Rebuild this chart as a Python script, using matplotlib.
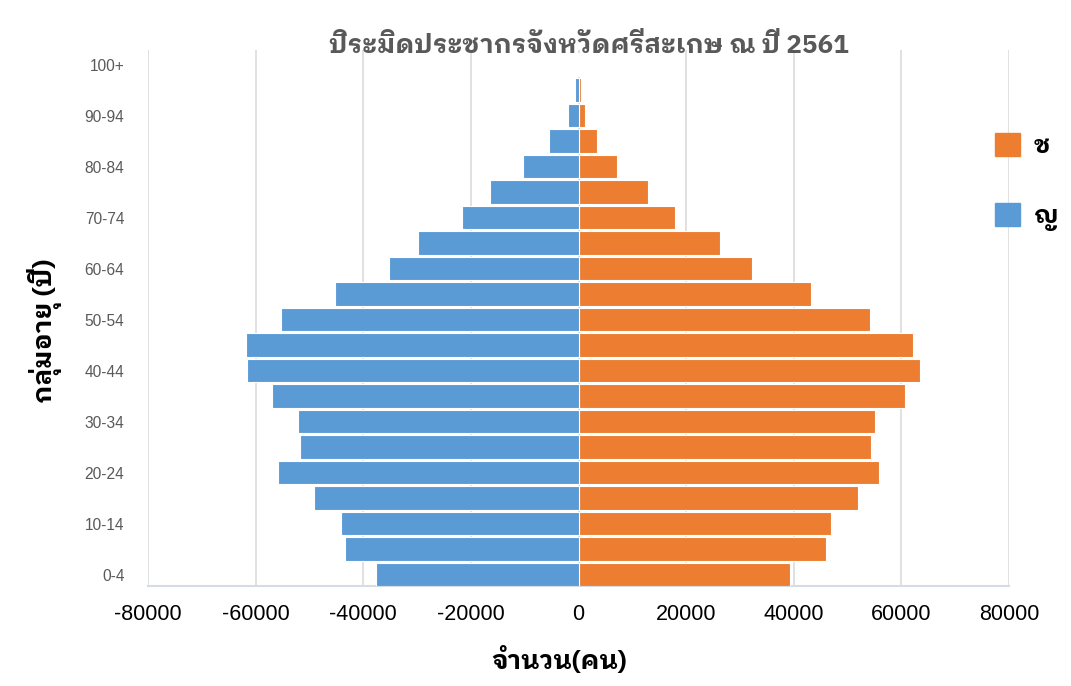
import matplotlib
matplotlib.use("Agg")
import matplotlib.pyplot as plt
from matplotlib.patches import Patch

# age groups, youngest first
age_groups = ['0-4', '5-9', '10-14', '15-19', '20-24', '25-29', '30-34',
              '35-39', '40-44', '45-49', '50-54', '55-59', '60-64', '65-69',
              '70-74', '75-79', '80-84', '85-89', '90-94', '95-99', '100+']

# male counts (ช)
male = [39300, 45950, 46900, 52000, 55900, 54400, 55100, 60600, 63400, 62100,
        54100, 43200, 32200, 26300, 17900, 12900, 7200, 3500, 1250, 500, 80]

# female counts (ญ), negative so they go to the left
female = [-37700, -43400, -44200, -49100, -55800, -51700, -52200, -57000,
          -61600, -61800, -55300, -45200, -35200, -29800, -21600, -16400,
          -10400, -5500, -2000, -650, -80]

x_ticks = [-80000, -60000, -40000, -20000, 0, 20000, 40000, 60000, 80000]

title = 'ปิระมิดประชากรจังหวัดศรีสะเกษ ณ ปี 2561'
x_label = 'จำนวน(คน)'
y_label = 'กลุ่มอายุ (ปี)'

thai = ['IBM Plex Sans Thai Looped', 'DejaVu Sans']
orange = '#ED7D31'
blue = '#5B9BD5'

fig = plt.figure(figsize=(10.71, 6.86), dpi=100)
ax = fig.add_axes([0.1382, 0.1458, 0.8039, 0.7806])

pos = list(range(len(age_groups)))
ax.barh(pos, male, height=0.93, color=orange, edgecolor='white', linewidth=0.8, zorder=3)
ax.barh(pos, female, height=0.93, color=blue, edgecolor='white', linewidth=0.8, zorder=3)

ax.set_xlim(-80000, 80000)
ax.set_ylim(-0.45, 20.55)
ax.set_xticks(x_ticks)
ax.set_xticklabels([str(v) for v in x_ticks], family='Liberation Sans', fontsize=15.5)
ax.set_yticks(pos[::2])
ax.set_yticklabels(age_groups[::2], family='Liberation Sans', fontsize=11.2, color='#595959')
ax.tick_params(axis='x', length=0, pad=13)
ax.tick_params(axis='y', length=0, pad=17)

ax.grid(axis='x', color='#D9D9D9', linewidth=1.1, zorder=0)
for s in ['top', 'right', 'left']:
    ax.spines[s].set_visible(False)
ax.spines['bottom'].set_color('#D6DCE5')
ax.spines['bottom'].set_linewidth(1.5)

fig.text(0.55, 0.934, title, family=thai, fontsize=18.7, fontweight='bold',
         color='#595959', ha='center', va='center')
fig.text(0.522, 0.038, x_label, family=thai, fontsize=18.5, fontweight='bold',
         ha='center', va='center')
fig.text(0.042, 0.518, y_label, family=thai, fontsize=19, fontweight='bold',
         ha='center', va='center', rotation=90)

handles = [Patch(color=orange), Patch(color=blue)]
fig.legend(handles, ['ช', 'ญ'], loc='upper left', bbox_to_anchor=(0.929, 0.806),
           frameon=False, prop={'family': thai, 'size': 18, 'weight': 'bold'},
           handlelength=1.0, handleheight=1.05, handletextpad=0.55,
           labelspacing=1.78, borderpad=0, borderaxespad=0)

fig.savefig('out.png', dpi=100)
